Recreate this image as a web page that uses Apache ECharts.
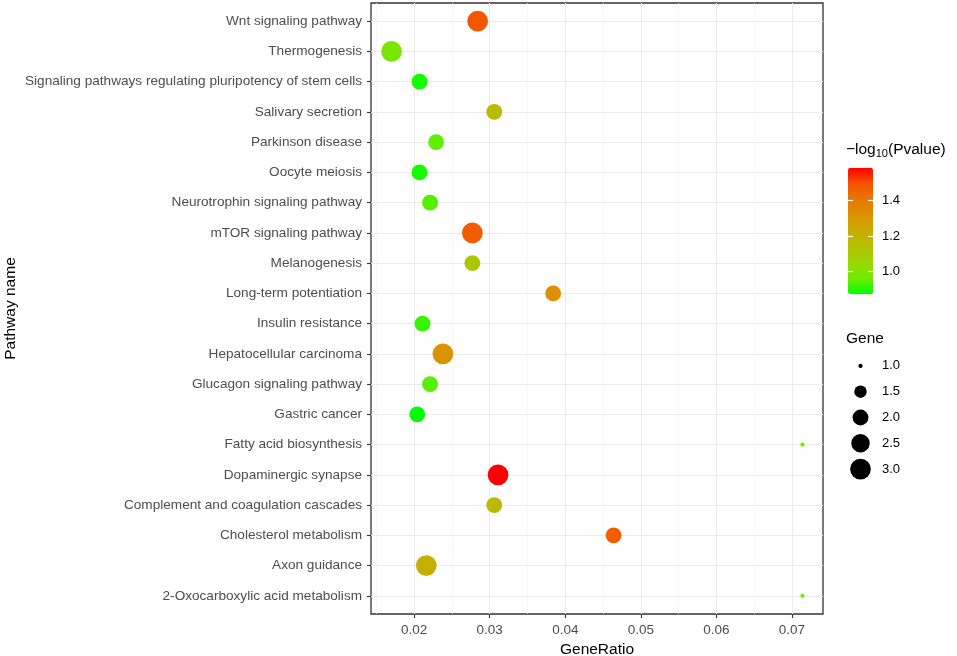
<!DOCTYPE html>
<html>
<head>
<meta charset="utf-8">
<script src="https://cdn.jsdelivr.net/npm/echarts@6/dist/echarts.min.js"></script>
<style>
  html, body { margin: 0; padding: 0; background: #fff; }
  #chart { width: 957px; height: 656px; }
</style>
</head>
<body>
<div id="chart"></div>
<script>
// pathway names, top to bottom as in the plot
const pathways = [
  'Wnt signaling pathway',
  'Thermogenesis',
  'Signaling pathways regulating pluripotency of stem cells',
  'Salivary secretion',
  'Parkinson disease',
  'Oocyte meiosis',
  'Neurotrophin signaling pathway',
  'mTOR signaling pathway',
  'Melanogenesis',
  'Long-term potentiation',
  'Insulin resistance',
  'Hepatocellular carcinoma',
  'Glucagon signaling pathway',
  'Gastric cancer',
  'Fatty acid biosynthesis',
  'Dopaminergic synapse',
  'Complement and coagulation cascades',
  'Cholesterol metabolism',
  'Axon guidance',
  '2-Oxocarboxylic acid metabolism'
];
const geneRatio = [0.0284, 0.0170, 0.0207, 0.0306, 0.0229, 0.0207, 0.0221, 0.0277, 0.0277, 0.0384,
                   0.0211, 0.0238, 0.0221, 0.0204, 0.0714, 0.0311, 0.0306, 0.0464, 0.0216, 0.0714];
const logP = [1.49, 0.98, 0.888, 1.17, 0.95, 0.888, 0.94, 1.475, 1.11, 1.33,
              0.915, 1.32, 0.94, 0.873, 0.99, 1.586, 1.17, 1.47, 1.21, 0.99];
const geneCount = [3, 3, 2, 2, 2, 2, 2, 3, 2, 2,
                   2, 3, 2, 2, 1, 3, 2, 2, 3, 1];

const xTicks = [0.02, 0.03, 0.04, 0.05, 0.06, 0.07];
const colorTicks = [1.0, 1.2, 1.4];
const sizeBreaks = [1.0, 1.5, 2.0, 2.5, 3.0];

// green -> red, sampled like a Lab gradient
const colorStops = ['#00FF00', '#70EB00', '#98D700', '#B3C100', '#C9AB00', '#DA9200', '#E87700', '#F45300', '#FF0000'];

const font = 'Liberation Sans, Arial, sans-serif';

(function() {
  let myChart = echarts.init(document.getElementById('chart'));

  // x range with 5% expansion like ggplot
  let xMin = Math.min(...geneRatio), xMax = Math.max(...geneRatio);
  let xPad = (xMax - xMin) * 0.05;
  let xMinor = xTicks.map(t => +(t - 0.005).toFixed(3));

  let gMin = Math.min(...geneCount), gMax = Math.max(...geneCount);
  // area scale, size range 1..6
  function dotSize(g) {
    let s = 1 + 5 * Math.sqrt((g - gMin) / (gMax - gMin));
    return 3.3 * s + 0.9;
  }

  let cMin = Math.min(...logP), cMax = Math.max(...logP);
  let catIdx = pathways.map((p, i) => i);

  let option = {
    animation: false,
    backgroundColor: '#fff',
    textStyle: { fontFamily: font },
    title: [
      {
        text: '{m|\u2212log}{s|10}{m|(Pvalue)}',
        left: 846,
        top: 140,
        padding: 0,
        textStyle: {
          fontWeight: 'normal',
          rich: {
            m: { fontSize: 15.5, color: '#000', fontWeight: 'normal', fontFamily: font, lineHeight: 19 },
            s: { fontSize: 11, color: '#000', fontWeight: 'normal', fontFamily: font, verticalAlign: 'bottom', lineHeight: 13 }
          }
        }
      },
      {
        text: 'Gene',
        left: 846,
        top: 331,
        padding: 0,
        textStyle: { fontSize: 15.5, color: '#000', fontWeight: 'normal', fontFamily: font }
      }
    ],
    grid: [
      { left: 371, top: 3, width: 452, height: 611, show: true, borderColor: '#333', borderWidth: 1.3, backgroundColor: 'transparent', outerBoundsMode: 'none' },
      { left: 848, top: 167.7, width: 25, height: 126.6, outerBoundsMode: 'none' },
      { left: 848, top: 353, width: 25, height: 129, outerBoundsMode: 'none' }
    ],
    visualMap: {
      type: 'continuous',
      seriesIndex: 0,
      dimension: 2,
      min: cMin,
      max: cMax,
      calculable: false,
      left: 848,
      top: 167.7,
      itemWidth: 25,
      itemHeight: 126.6,
      padding: 0,
      inRange: { color: colorStops }
    },
    xAxis: [
      {
        gridIndex: 0,
        type: 'value',
        min: xMin - xPad,
        max: xMax + xPad,
        position: 'bottom',
        axisLine: { show: false, onZero: false },
        axisTick: { show: true, length: 4, customValues: xTicks, lineStyle: { color: '#333', width: 1.1 } },
        axisLabel: { customValues: xTicks, formatter: v => v.toFixed(2), color: '#4d4d4d', fontSize: 13.5, margin: 9 },
        splitLine: { show: true, lineStyle: { color: '#ebebeb', width: 1.1 } },
        name: 'GeneRatio',
        nameLocation: 'middle',
        nameGap: 25,
        nameTextStyle: { color: '#000', fontSize: 15.5 }
      },
      {
        // minor grid lines
        gridIndex: 0,
        type: 'value',
        min: xMin - xPad,
        max: xMax + xPad,
        position: 'top',
        axisLine: { show: false, onZero: false },
        axisTick: { show: false, customValues: xMinor },
        axisLabel: { show: false },
        splitLine: { show: true, lineStyle: { color: '#f3f3f3', width: 0.7 } }
      },
      { gridIndex: 1, type: 'value', min: 0, max: 1, show: false },
      { gridIndex: 2, type: 'value', min: -1, max: 1, show: false }
    ],
    yAxis: [
      {
        gridIndex: 0,
        type: 'value',
        inverse: true,
        min: -0.6,
        max: pathways.length - 0.4,
        axisLine: { show: false, onZero: false },
        axisTick: { show: true, length: 4, customValues: catIdx, lineStyle: { color: '#333', width: 1.1 } },
        axisLabel: { customValues: catIdx, formatter: v => pathways[Math.round(v)], color: '#4d4d4d', fontSize: 13.6, margin: 9 },
        splitLine: { show: true, lineStyle: { color: '#ebebeb', width: 1.1 } },
        name: 'Pathway name',
        nameLocation: 'middle',
        nameGap: 352,
        nameRotate: 90,
        nameTextStyle: { color: '#000', fontSize: 15.5 }
      },
      {
        gridIndex: 1,
        type: 'value',
        min: cMin,
        max: cMax,
        position: 'right',
        z: 10,
        axisLine: { show: false, onZero: false },
        axisTick: { show: true, inside: true, length: 5, customValues: colorTicks, lineStyle: { color: '#fff', width: 1.2 } },
        axisLabel: { customValues: colorTicks, formatter: v => v.toFixed(1), color: '#000', fontSize: 13, margin: 9 },
        splitLine: { show: false }
      },
      {
        gridIndex: 1,
        type: 'value',
        min: cMin,
        max: cMax,
        position: 'left',
        z: 10,
        axisLine: { show: false, onZero: false },
        axisTick: { show: true, inside: true, length: 5, customValues: colorTicks, lineStyle: { color: '#fff', width: 1.2 } },
        axisLabel: { show: false },
        splitLine: { show: false }
      },
      {
        gridIndex: 2,
        type: 'category',
        inverse: true,
        position: 'right',
        data: sizeBreaks.map(b => b.toFixed(1)),
        axisLine: { show: false },
        axisTick: { show: false },
        axisLabel: { color: '#000', fontSize: 13, margin: 9 },
        splitLine: { show: false }
      }
    ],
    series: [
      {
        name: 'Pathways',
        type: 'scatter',
        xAxisIndex: 0,
        yAxisIndex: 0,
        symbol: 'circle',
        symbolSize: function(val) { return dotSize(val[3]); },
        itemStyle: { opacity: 1 },
        emphasis: { disabled: true },
        data: pathways.map((p, i) => [geneRatio[i], i, logP[i], geneCount[i]])
      },
      {
        name: 'Gene',
        type: 'scatter',
        xAxisIndex: 3,
        yAxisIndex: 3,
        symbol: 'circle',
        symbolSize: function(val) { return dotSize(val[2]); },
        itemStyle: { color: '#000', opacity: 1 },
        emphasis: { disabled: true },
        data: sizeBreaks.map((b, i) => [0, i, b])
      }
    ]
  };

  myChart.setOption(option);

  window.addEventListener('resize', function() {
    myChart.resize();
  });
})();
</script>
</body>
</html>
